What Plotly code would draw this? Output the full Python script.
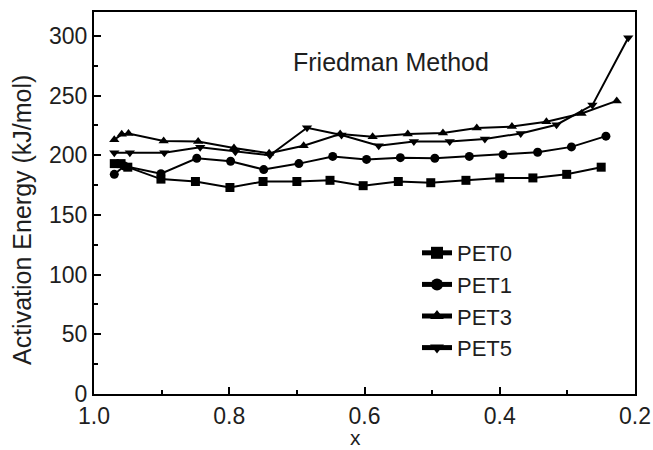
import plotly.graph_objects as go

# ---- data ----
pet0_x = [0.97, 0.96, 0.95, 0.901, 0.850, 0.799, 0.750, 0.700, 0.651, 0.602, 0.550, 0.502, 0.450, 0.400, 0.351, 0.301, 0.250]
pet0_y = [193, 193, 190, 180, 178, 173, 178, 178, 179, 174.5, 178, 177, 179, 181, 181, 184, 190]

pet1_x = [0.970, 0.955, 0.901, 0.848, 0.798, 0.749, 0.697, 0.647, 0.597, 0.547, 0.496, 0.445, 0.395, 0.344, 0.294, 0.243]
pet1_y = [184, 191, 184.5, 197.5, 195, 188, 193, 199, 196.5, 198, 197.5, 199, 200.5, 202.5, 207, 216]

pet3_x = [0.970, 0.959, 0.949, 0.897, 0.846, 0.793, 0.741, 0.690, 0.636, 0.588, 0.536, 0.484, 0.434, 0.382, 0.331, 0.279, 0.227]
pet3_y = [213, 217.5, 218.3, 212, 211.6, 206, 201.6, 208, 217.8, 215.5, 217.8, 218.6, 222.8, 224, 228, 235, 245.5]

pet5_x = [0.970, 0.947, 0.896, 0.843, 0.791, 0.740, 0.685, 0.634, 0.579, 0.527, 0.474, 0.422, 0.369, 0.316, 0.263, 0.210]
pet5_y = [202, 202, 202, 206.6, 203, 200, 223, 217, 208, 211.6, 211.6, 213.6, 218.3, 225.6, 242, 298.5]

series_names = ["PET0", "PET1", "PET3", "PET5"]
series_x = [pet0_x, pet1_x, pet3_x, pet5_x]
series_y = [pet0_y, pet1_y, pet3_y, pet5_y]
symbols = ["square", "circle", "triangle-up", "triangle-down"]

y_ticks = [0, 50, 100, 150, 200, 250, 300]
x_ticks = [1.0, 0.8, 0.6, 0.4, 0.2]
x_tick_labels = ["1.0", "0.8", "0.6", "0.4", "0.2"]

FONT = "Arial, Liberation Sans, sans-serif"
TXT = "#1e1e1e"

fig = go.Figure()
for name, xs, ys, sym in zip(series_names, series_x, series_y, symbols):
    fig.add_trace(go.Scatter(
        x=xs, y=ys, name=name, mode="lines+markers",
        line=dict(color="black", width=2),
        marker=dict(symbol=sym, size=9, color="black"),
        cliponaxis=False,
    ))

L, R, T, B = 94, 18, 12, 56
W, H = 653, 450
pw, ph = W - L - R, H - T - B


def px_x(px):
    return (px - L) / pw


def px_y(py):
    return (H - B - py) / ph


fig.update_layout(
    width=W, height=H,
    margin=dict(l=L, r=R, t=T, b=B, autoexpand=False),
    paper_bgcolor="white", plot_bgcolor="white",
    font=dict(family=FONT, color=TXT, size=22),
    showlegend=True,
    legend=dict(
        x=px_x(417), y=px_y(232), xanchor="left", yanchor="top",
        bgcolor="rgba(0,0,0,0)", font=dict(size=22, family=FONT, color=TXT),
        itemsizing="constant",
    ),
    annotations=[
        dict(text="Friedman Method", x=px_x(391), y=px_y(62),
             xref="paper", yref="paper", xanchor="center", yanchor="middle",
             showarrow=False, font=dict(size=25, family=FONT, color=TXT)),
        dict(text="Activation Energy (kJ/mol)", xref="paper", yref="paper",
             x=px_x(22), y=px_y(220), textangle=-90, showarrow=False,
             xanchor="center", yanchor="middle",
             font=dict(size=25, family=FONT, color=TXT)),
        dict(text="x", xref="paper", yref="paper", x=px_x(355), y=px_y(449.5),
             showarrow=False, xanchor="center", yanchor="bottom", borderpad=0,
             font=dict(size=21, family=FONT, color=TXT)),
    ],
)

fig.update_xaxes(
    range=[1.0, 0.2], tickvals=x_ticks, ticktext=x_tick_labels, automargin=False,
    showgrid=False, zeroline=False, showline=True, linecolor="black", linewidth=2,
    mirror=True, ticks="inside", ticklen=7, tickwidth=2, tickcolor="black",
    minor=dict(dtick=0.1, ticks="inside", ticklen=4, tickwidth=2, tickcolor="black", tick0=0.1),
    tickfont=dict(size=23, family=FONT, color=TXT),
)
fig.update_yaxes(
    range=[0, 320], tickvals=y_ticks, automargin=False,
    showgrid=False, zeroline=False, showline=True, linecolor="black", linewidth=2,
    mirror=True, ticks="inside", ticklen=7, tickwidth=2, tickcolor="black",
    minor=dict(dtick=25, ticks="inside", ticklen=4, tickwidth=2, tickcolor="black"),
    tickfont=dict(size=23, family=FONT, color=TXT),
)

# remove the browser's default 8px body margin so the figure sits at the page corner
fig.write_html("out.html", config={"displayModeBar": False},
               post_script="document.body.style.margin='0';")
